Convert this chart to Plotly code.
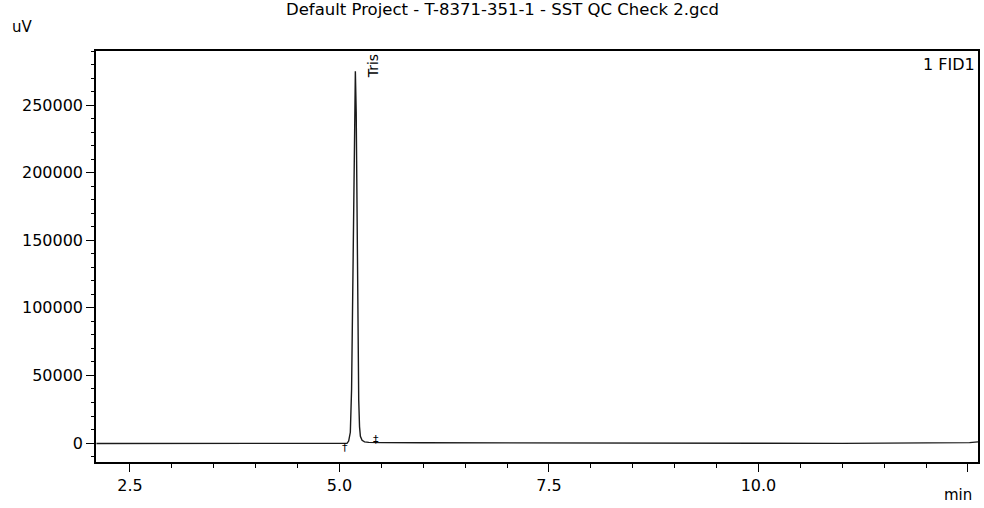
import plotly.graph_objects as go

# Chromatogram data (time in min, signal in uV)
time_min = [2.10, 2.50, 3.00, 3.50, 4.00, 4.50, 5.00, 5.06, 5.09, 5.11, 5.13, 5.145,
             5.16, 5.17, 5.18, 5.19, 5.20, 5.21, 5.22, 5.23, 5.24, 5.25, 5.27, 5.30,
             5.35, 5.40, 5.44, 5.50, 6.00, 7.00, 8.00, 9.00, 10.00, 11.00, 12.00,
             12.35, 12.52, 12.62]
signal_uv = [-300, -300, -300, -400, -400, -400, -400, -500, -200, 1500, 8000, 40000,
             120000, 190000, 250000, 275000, 245000, 160000, 80000, 32000, 12000, 5000, 2000, 900,
             500, 400, 500, 300, 200, 0, 0, 0, -100, -200, -200,
             -100, 300, 900]

peak_name = ["Tris"]
peak_time = [5.19]
event_time = [5.07, 5.44]
event_symbol = ["\u2020", "\u2021"]
event_level = [-3500, 3000]

x_tick_vals = [2.5, 5.0, 7.5, 10.0, 12.5]
x_tick_text = ["2.5", "5.0", "7.5", "10.0", ""]
y_tick_vals = [0, 50000, 100000, 150000, 200000, 250000]
y_tick_text = ["0", "50000", "100000", "150000", "200000", "250000"]

title_text = "Default Project - T-8371-351-1 - SST QC Check 2.gcd"
channel_text = "1 FID1"

FONT = "DejaVu Sans"
INK = "#000000"

fig = go.Figure()
fig.add_trace(go.Scatter(x=time_min, y=signal_uv, mode="lines",
                         line=dict(color="#1a1a1a", width=1.4), showlegend=False,
                         hoverinfo="skip"))

for t, s, lv in zip(event_time, event_symbol, event_level):
    fig.add_annotation(x=t, y=lv, text=s, showarrow=False, xref="x", yref="y",
                       font=dict(family=FONT, size=11, color=INK))

for name, t in zip(peak_name, peak_time):
    fig.add_annotation(x=t, y=1, xref="x", yref="paper", text=name, textangle=-90,
                       showarrow=False, xanchor="left", yanchor="top", xshift=8, yshift=-1,
                       font=dict(family=FONT, size=14, color=INK))

fig.add_annotation(x=1, y=1, xref="paper", yref="paper", text=channel_text, showarrow=False,
                   xanchor="right", yanchor="top", xshift=-1, yshift=-2,
                   font=dict(family=FONT, size=16, color=INK))
fig.add_annotation(x=0.5, y=1.10, xref="paper", yref="paper", text=title_text, showarrow=False,
                   xanchor="center", yanchor="middle", xshift=-35,
                   font=dict(family=FONT, size=16.5, color=INK))
fig.add_annotation(x=-0.098, y=1.058, xref="paper", yref="paper", text="uV", showarrow=False,
                   xanchor="left", yanchor="middle",
                   font=dict(family=FONT, size=15, color=INK))
fig.add_annotation(x=1, y=-0.08, xref="paper", yref="paper", text="min", showarrow=False,
                   xanchor="right", yanchor="middle", xshift=-4,
                   font=dict(family=FONT, size=15, color=INK))

fig.update_layout(
    width=984, height=508,
    margin=dict(l=96, r=4, t=51, b=46),
    paper_bgcolor="white", plot_bgcolor="white",
    font=dict(family=FONT, size=15, color=INK),
)
fig.update_xaxes(range=[2.095, 12.62], tickmode="array", tickvals=x_tick_vals, ticktext=x_tick_text,
                 ticks="outside", ticklen=8, tickwidth=1.2, tickcolor=INK,
                 showline=True, linecolor=INK, linewidth=1.5, mirror=True,
                 showgrid=False, zeroline=False,
                 minor=dict(dtick=0.5, tick0=0, ticks="outside", ticklen=4, tickcolor=INK, showgrid=False),
                 tickfont=dict(family=FONT, size=16, color=INK))
fig.update_yaxes(range=[-14000, 290000], tickmode="array", tickvals=y_tick_vals, ticktext=y_tick_text,
                 ticks="outside", ticklen=8, tickwidth=1.2, tickcolor=INK,
                 showline=True, linecolor=INK, linewidth=1.5, mirror=True,
                 showgrid=False, zeroline=False,
                 minor=dict(dtick=10000, tick0=0, ticks="outside", ticklen=3, tickcolor=INK, showgrid=False),
                 tickfont=dict(family=FONT, size=16, color=INK))

fig.write_html("out.html")
